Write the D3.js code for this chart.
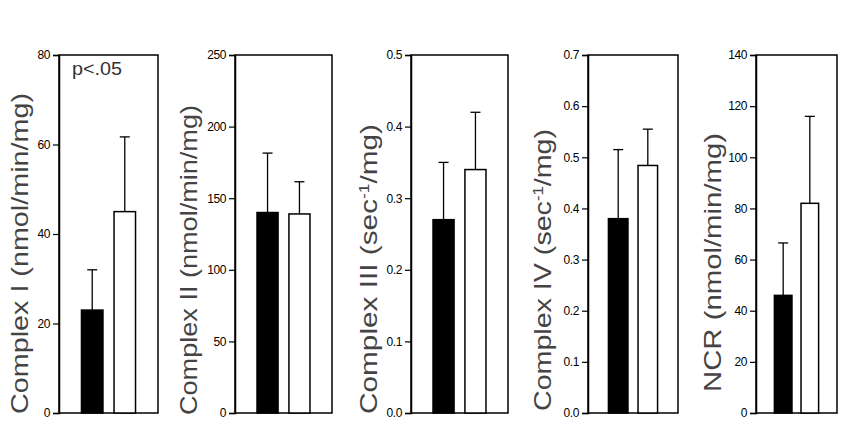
<!DOCTYPE html>
<html><head><meta charset="utf-8">
<script src="https://cdn.jsdelivr.net/npm/d3@7"></script>
<style>body{margin:0;background:#fff}svg{display:block}</style>
</head><body><svg id="c" width="860" height="444"></svg>
<script>
// ---- data ----
const groups = ["black", "white"];
const panels = ["Complex I", "Complex II", "Complex III", "Complex IV", "NCR"];
const meanValues = [[23, 45], [140, 139], [0.27, 0.34], [0.38, 0.484], [46, 82]];
const errorTops = [[32, 61.7], [181.5, 161.5], [0.35, 0.42], [0.515, 0.555], [66.5, 116]];
const yMaxValues = [80, 250, 0.5, 0.7, 140];
const tickLabels = [
  ["0", "20", "40", "60", "80"],
  ["0", "50", "100", "150", "200", "250"],
  ["0.0", "0.1", "0.2", "0.3", "0.4", "0.5"],
  ["0.0", "0.1", "0.2", "0.3", "0.4", "0.5", "0.6", "0.7"],
  ["0", "20", "40", "60", "80", "100", "120", "140"]
];
const titles = [
  [["Complex I (nmol/min/mg)", false]],
  [["Complex II (nmol/min/mg)", false]],
  [["Complex III (sec", false], ["-1", true], ["/mg)", false]],
  [["Complex IV (sec", false], ["-1", true], ["/mg)", false]],
  [["NCR (nmol/min/mg)", false]]
];
const annotation = "p<.05";

// ---- layout ----
const plotTop = 55, plotBottom = 413;
const panelLeft = [59, 235, 411, 588, 756];
const panelWidth = [99, 97, 97, 90, 81];
const titleX = [28, 197, 377, 551, 721];
const titleY = [414, 415, 414, 411, 392];
const titleLen = [321, 310, 290, 282, 259];

const svg = d3.select("#c");
svg.append("rect").attr("width", 860).attr("height", 444).attr("fill", "#fff");

panels.forEach((name, i) => {
  const x0 = panelLeft[i], w = panelWidth[i];
  const y = d3.scaleLinear().domain([0, yMaxValues[i]]).range([plotBottom, plotTop]);
  const x = d3.scaleBand().domain(groups).range([x0, x0 + w]).paddingInner(0.34).paddingOuter(0.69);
  const g = svg.append("g");

  // frame
  g.append("rect").attr("x", x0).attr("y", plotTop).attr("width", w).attr("height", plotBottom - plotTop)
    .attr("fill", "none").attr("stroke", "#000").attr("stroke-width", 1.5);

  // axis
  const ticks = tickLabels[i].map(Number);
  const ax = g.append("g").attr("transform", `translate(${x0},0)`)
    .call(d3.axisLeft(y).tickValues(ticks).tickSize(6).tickPadding(3)
      .tickFormat((d, k) => tickLabels[i][k]));
  ax.select(".domain").attr("stroke", "#000").attr("stroke-width", 1.5);
  ax.selectAll(".tick line").attr("stroke", "#000").attr("stroke-width", 1.2);
  ax.selectAll(".tick text").attr("fill", "#000")
    .style("font-family", "'Liberation Sans', Arial, sans-serif")
    .style("font-size", "12px").style("letter-spacing", "-0.4px");

  // error bars (upper only)
  groups.forEach((gr, k) => {
    const cx = x(gr) + x.bandwidth() / 2;
    g.append("line").attr("x1", cx).attr("x2", cx)
      .attr("y1", y(meanValues[i][k])).attr("y2", y(errorTops[i][k]))
      .attr("stroke", "#000").attr("stroke-width", 1.3);
    g.append("line").attr("x1", cx - 5).attr("x2", cx + 5)
      .attr("y1", y(errorTops[i][k])).attr("y2", y(errorTops[i][k]))
      .attr("stroke", "#000").attr("stroke-width", 1.3);
  });

  // bars
  g.selectAll(".bar").data(groups).join("rect")
    .attr("x", d => x(d)).attr("width", x.bandwidth())
    .attr("y", (d, k) => y(meanValues[i][k]))
    .attr("height", (d, k) => plotBottom - y(meanValues[i][k]))
    .attr("fill", d => d === "black" ? "#000" : "#fff")
    .attr("stroke", "#000").attr("stroke-width", 1.5);

  // title
  const t = svg.append("text")
    .attr("transform", `translate(${titleX[i]},${titleY[i]}) rotate(-90)`)
    .attr("textLength", titleLen[i]).attr("lengthAdjust", "spacingAndGlyphs")
    .style("font-family", "'Liberation Sans', Arial, sans-serif")
    .style("font-size", "24px").attr("fill", "#444");
  titles[i].forEach(([s, sup]) => {
    const ts = t.append("tspan").text(s);
    if (sup) ts.style("font-size", "14px").attr("baseline-shift", "super");
  });
});

// annotation
svg.append("text").attr("x", 72).attr("y", 75).text(annotation)
  .style("font-family", "'Liberation Sans', Arial, sans-serif")
  .style("font-size", "19px").attr("fill", "#333").attr("textLength", 50)
  .attr("lengthAdjust", "spacingAndGlyphs");
</script></body></html>
